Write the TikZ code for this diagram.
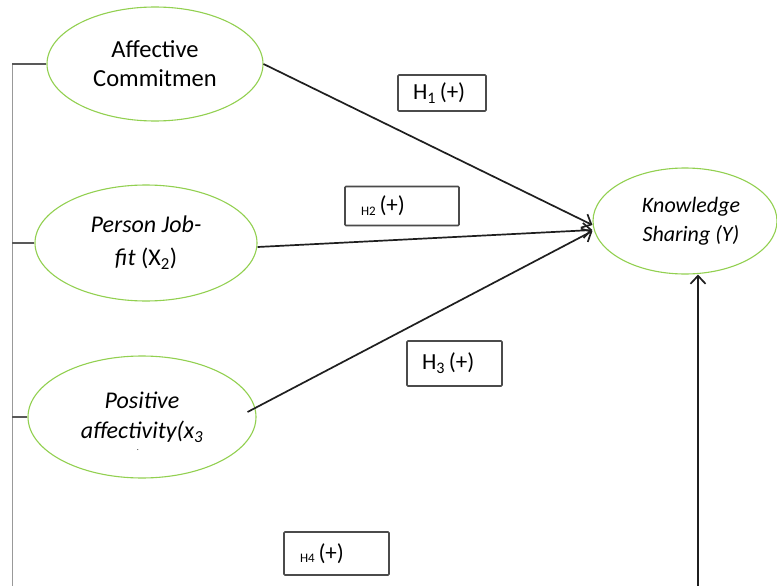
\documentclass[tikz,border=0pt]{standalone}
\usepackage{fontspec}
\setmainfont{Carlito}
\usetikzlibrary{shapes.geometric,arrows.meta,calc}
\definecolor{ovalgreen}{RGB}{146,208,80}
\definecolor{boxgray}{RGB}{75,75,75}
\begin{document}
\begin{tikzpicture}[x=1pt,y=-1pt,
  oval/.style={ellipse,draw=ovalgreen,line width=1.1pt,inner sep=0pt,align=center},
  hbox/.style={draw=boxgray,line width=1.6pt,rounded corners=1pt,inner ysep=0pt,align=left,font=\fontsize{23}{24}\selectfont},
  link/.style={draw=black!88,line width=1.7pt},
  arr/.style={link,-{Straight Barb[length=8pt,width=15pt,line width=1.7pt]}},
  stub/.style={draw=black!65,line width=1.2pt},
  rail/.style={draw=black!40,line width=1pt}]
\useasboundingbox[fill=white] (0,0) rectangle (777,586);

% ovals
\node[oval,font=\fontsize{24.5}{29}\selectfont,minimum width=216,minimum height=114] (ac) at (155,64) {Affective\\Commitmen};
\node[oval,font=\fontsize{24}{33}\selectfont\itshape,minimum width=222,minimum height=116] (pj) at (146,243) {Person Job-\\fit {\upshape (X\textsubscript{2})}};
\node[oval,font=\fontsize{24}{30}\selectfont\itshape,minimum width=228,minimum height=122] (pa) at (142,417) {Positive\\affectivity(x\textsubscript{3}};
\node[font=\fontsize{8}{8}\selectfont] (dot) at (138,450) {.};
\node[oval,font=\fontsize{22}{29}\selectfont\itshape,minimum width=184,minimum height=106] (ks) at (685,221) {\hspace*{12pt}Knowledge\\\hspace*{12pt}Sharing (Y)};

% hypothesis boxes
\node[hbox,inner xsep=15pt,text width=58pt,minimum height=36] (h1) at (442,93) {\mbox{H\textsubscript{1}\,(+)}};
\node[hbox,inner xsep=16pt,text width=82pt,minimum height=39] (h2) at (402,206) {\raisebox{-3pt}{\fontsize{13}{13}\selectfont H2}\,(+)};
\node[hbox,inner xsep=15pt,text width=65pt,minimum height=45] (h3) at (454.5,363.5) {H\textsubscript{3}\,(+)};
\node[hbox,inner xsep=16pt,text width=73pt,minimum height=43] (h4) at (336.5,553.5) {\raisebox{-2pt}{\fontsize{13}{13}\selectfont H4}\,(+)};

% arrows to Knowledge Sharing
\draw[arr] (ac.east) -- ($(ks.west)+(0,4)$);
\draw[arr] ($(pj.east)+(0,4)$) -- ($(ks.west)+(0,9)$);
\draw[arr] ($(pa.east)+(-9,-5)$) -- ($(ks.west)+(0,10)$);

\coordinate (bot) at (698,586);
\draw[arr] (bot) -- (bot |- ks.south);

% left rail
\coordinate (rb) at (12,586);
\draw[rail] (rb) -- (rb |- ac.west);
\draw[stub] (ac.west) -- (ac.west -| rb);
\draw[stub] (pj.west) -- (pj.west -| rb);
\draw[stub] (pa.west) -- (pa.west -| rb);
\end{tikzpicture}
\end{document}
